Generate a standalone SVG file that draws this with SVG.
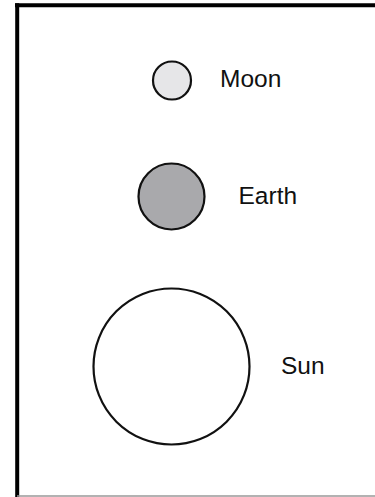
<svg xmlns="http://www.w3.org/2000/svg" width="375" height="497" viewBox="0 0 375 497">
<style>
.body{stroke:#111;stroke-width:2.2}
.lbl{font-family:"Liberation Sans",Arial,sans-serif;font-size:24.5px;fill:#111}
</style>
<rect width="375" height="497" fill="#fff"/>
<g id="frame">
<line x1="15" y1="5.3" x2="375" y2="5.3" stroke="#000" stroke-width="4"/>
<line x1="17.2" y1="3.3" x2="17.2" y2="497" stroke="#000" stroke-width="4"/>
<line x1="17" y1="496" x2="375" y2="496" stroke="#999" stroke-width="1.5"/>
</g>
<g id="moon">
<circle class="body" cx="172" cy="80.5" r="19" fill="#e6e6e8"/>
<text class="lbl" x="220" y="87">Moon</text>
</g>
<g id="earth">
<circle class="body" cx="171.5" cy="196.5" r="33" fill="#a9a9ac"/>
<text class="lbl" x="238.5" y="204">Earth</text>
</g>
<g id="sun">
<circle class="body" cx="171.5" cy="366.5" r="78" fill="#fff"/>
<text class="lbl" x="281" y="374">Sun</text>
</g>
</svg>
